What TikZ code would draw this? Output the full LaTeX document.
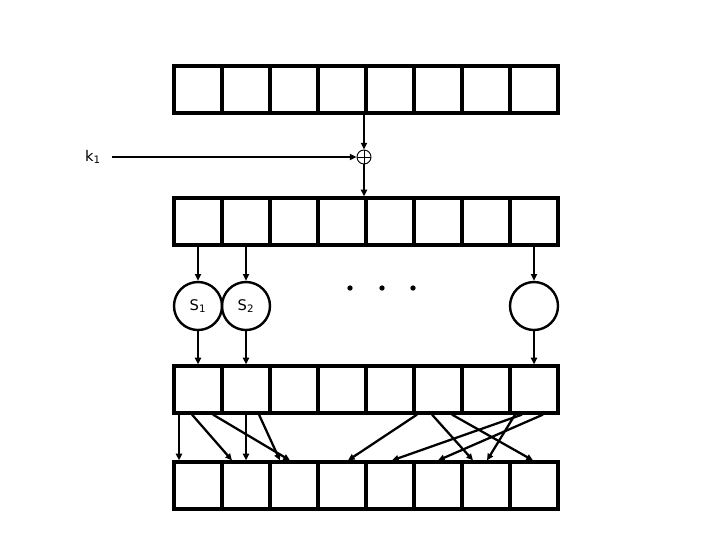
\documentclass[tikz,border=0pt]{standalone}
\usepackage{fontspec}
\setmainfont{DejaVu Sans}
\usetikzlibrary{arrows.meta, calc}

\begin{document}
\begin{tikzpicture}[
    x=0.75pt, y=-0.75pt,
    font=\fontsize{11}{13}\selectfont,
    cell/.style={rectangle, draw, line width=2.4pt, minimum width=36pt, minimum height=35.25pt, inner sep=0pt},
    sbox/.style={circle, draw, line width=1.8pt, minimum size=36pt, inner sep=0pt},
    xorop/.style={circle, draw, line width=0.7pt, minimum size=10.5pt, inner sep=0pt},
    dot/.style={circle, fill, minimum size=4pt, inner sep=0pt},
    arrow/.style={-{Triangle[length=5pt,width=4.5pt]}, line width=1.7pt}
]
\useasboundingbox (0,0) rectangle (720,540);

% Four rows of eight cells
\foreach \r/\y in {a/89.5, b/221.5, c/389.5, d/485.5}
  \foreach \i in {1,...,8}
    \node[cell] (\r\i) at (150+48*\i, \y) {};

% Key addition
\node (key) at (93,157) {k\textsubscript{1}};
\node[xorop] (xor) at (364,157) {};
\draw[line width=0.7pt] (xor.north) -- (xor.south) (xor.west) -- (xor.east);
\draw[arrow] ([xshift=5pt]key.east) -- (xor.west);
\draw[arrow] (xor |- a4.south) -- (xor.north);
\draw[arrow] (xor.south) -- (xor |- b4.north);

% S-boxes
\node[sbox] (s1) at (198,306) {S\textsubscript{1}};
\node[sbox] (s2) at (246,306) {S\textsubscript{2}};
\node[sbox] (s8) at (534,306) {};
\node[dot] (dot1) at (350,288) {};
\node[dot] (dot2) at (382,288) {};
\node[dot] (dot3) at (413,288) {};

\foreach \i in {1,2,8} {
  \draw[arrow] (b\i.south) -- (s\i.north);
  \draw[arrow] (s\i.south) -- (c\i.north);
}

% Permutation wires
\foreach \s/\so/\e/\eo in {1/-19/1/-19, 1/-6/2/-14, 1/15/3/-4, 2/0/2/0, 2/13/3/-14,
    6/-21/4/6, 6/-6/7/-13, 6/14/8/-1, 8/-12/5/2, 8/-19/7/1, 8/9/6/0}
  \draw[arrow] ($(c\s.south)+(\so,0)$) -- ($(d\e.north)+(\eo,0)$);

\end{tikzpicture}
\end{document}
